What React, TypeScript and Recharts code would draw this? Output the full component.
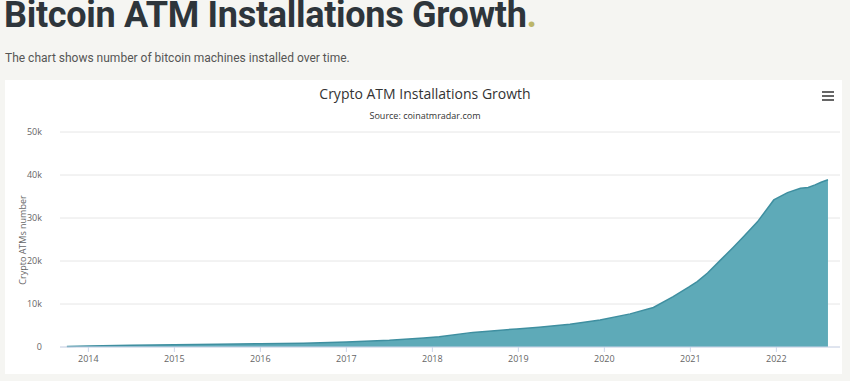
import React from 'react';
import { AreaChart, Area, XAxis, YAxis, CartesianGrid } from 'recharts';

const years = [
  2013.75, 2014, 2014.5, 2015, 2015.5, 2016, 2016.5, 2017, 2017.5, 2017.9,
  2018.08, 2018.47, 2018.98, 2019.24, 2019.6, 2019.95, 2020.3, 2020.57, 2020.8,
  2020.98, 2021.08, 2021.2, 2021.35, 2021.5, 2021.62, 2021.78, 2021.97, 2022.13,
  2022.28, 2022.37, 2022.45, 2022.52, 2022.6,
];
const atms = [
  100, 250, 400, 550, 650, 750, 900, 1150, 1550, 2100,
  2400, 3400, 4200, 4600, 5300, 6300, 7700, 9200, 11700,
  13900, 15200, 17200, 20200, 23200, 25700, 29100, 34200, 35900,
  36900, 37100, 37700, 38300, 38900,
];
const yearTicks = [2014, 2015, 2016, 2017, 2018, 2019, 2020, 2021, 2022];
const valueTicks = [0, 10000, 20000, 30000, 40000, 50000];

const data = years.map((t, i) => ({ t, atms: atms[i] }));

const fmtK = (v: number) => (v === 0 ? '0' : `${v / 1000}k`);

export default function App() {
  return (
    <div
      style={{
        position: 'fixed',
        left: 0,
        top: 0,
        width: 850,
        height: 381,
        background: '#f5f5f2',
        overflow: 'hidden',
        fontFamily: 'Roboto, sans-serif',
      }}
    >
      <div
        style={{
          position: 'absolute',
          left: 4,
          top: -6,
          fontSize: 36,
          fontWeight: 700,
          color: '#2e353b',
          whiteSpace: 'nowrap',
          letterSpacing: -0.3,
        }}
      >
        Bitcoin ATM Installations Growth<span style={{ color: '#bcb66a' }}>.</span>
      </div>
      <div
        style={{
          position: 'absolute',
          left: 5,
          top: 51,
          fontSize: 12,
          color: '#555',
          whiteSpace: 'nowrap',
        }}
      >
        The chart shows number of bitcoin machines installed over time.
      </div>
      <div
        style={{
          position: 'absolute',
          left: 5,
          top: 80,
          width: 837,
          height: 294,
          background: '#fff',
        }}
      />
      <div
        style={{
          position: 'absolute',
          left: 0,
          width: 850,
          top: 84,
          textAlign: 'center',
          fontFamily: 'Open Sans, sans-serif',
          fontSize: 14,
          color: '#333',
        }}
      >
        Crypto ATM Installations Growth
      </div>
      <div
        style={{
          position: 'absolute',
          left: 0,
          width: 850,
          top: 109,
          textAlign: 'center',
          fontFamily: 'Open Sans, sans-serif',
          fontSize: 9,
          color: '#333',
        }}
      >
        Source: coinatmradar.com
      </div>
      <div style={{ position: 'absolute', left: 822, top: 91 }}>
        {[0, 4, 8].map((d) => (
          <div
            key={d}
            style={{ position: 'absolute', top: d, width: 12, height: 2, background: '#666' }}
          />
        ))}
      </div>
      <div
        style={{
          position: 'absolute',
          left: 22,
          top: 240,
          transform: 'translate(-50%, -50%) rotate(-90deg)',
          fontFamily: 'Open Sans, sans-serif',
          fontSize: 9,
          color: '#666',
          whiteSpace: 'nowrap',
        }}
      >
        Crypto ATMs number
      </div>
      <div style={{ position: 'absolute', left: 0, top: 0 }}>
        <AreaChart
          width={850}
          height={381}
          data={data}
          margin={{ top: 132, right: 10, bottom: 4, left: 10 }}
        >
          <CartesianGrid vertical={false} stroke="#e6e6e6" />
          <XAxis
            dataKey="t"
            type="number"
            domain={[2013.67, 2022.74]}
            ticks={yearTicks}
            allowDataOverflow
            height={30}
            stroke="#ccd6eb"
            tickSize={5}
            tickMargin={4}
            tick={{ fill: '#666', fontSize: 9, fontFamily: 'Open Sans, sans-serif' }}
          />
          <YAxis
            type="number"
            domain={[0, 50000]}
            ticks={valueTicks}
            tickFormatter={fmtK}
            width={50}
            axisLine={false}
            tickLine={false}
            tickMargin={12}
            tick={{ fill: '#666', fontSize: 9, fontFamily: 'Open Sans, sans-serif' }}
          />
          <Area
            type="linear"
            dataKey="atms"
            stroke="#3f8fa0"
            strokeWidth={1.5}
            fill="#5eaab8"
            fillOpacity={1}
            isAnimationActive={false}
            dot={false}
            activeDot={false}
          />
        </AreaChart>
      </div>
    </div>
  );
}
